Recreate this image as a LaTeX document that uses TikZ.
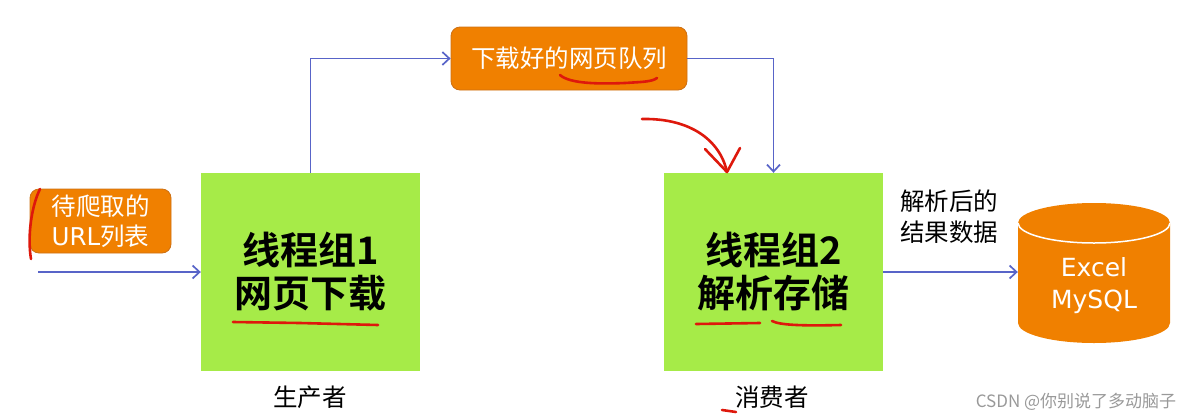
\documentclass[tikz,border=0pt]{standalone}
\usepackage{fontspec}
\newfontfamily\cjk{Noto Sans CJK SC}[BoldFont={Noto Sans CJK SC Bold}]
\newfontfamily\dv{DejaVu Sans}
\usetikzlibrary{arrows.meta}
\definecolor{limegreen}{RGB}{166,235,72}
\definecolor{boxorange}{RGB}{240,128,0}
\definecolor{edgeorange}{RGB}{205,112,20}
\definecolor{lineblue}{RGB}{88,100,200}
\definecolor{penred}{RGB}{222,24,12}
\tikzset{
  greenbox/.style={fill=limegreen, draw=none, minimum width=219pt, minimum height=198pt,
    inner sep=0pt, align=center, font=\cjk\bfseries\fontsize{38}{43}\selectfont},
  orangebox/.style={fill=boxorange, draw=edgeorange, line width=0.8pt, rounded corners=9pt,
    inner sep=0pt, align=center, text=white, font=\cjk\fontsize{24.5}{30}\selectfont},
  arr/.style={draw=lineblue, line width=1.7pt, -{Straight Barb[length=7pt,width=13pt]}},
  lab/.style={inner sep=0pt, align=center, font=\cjk\fontsize{24.5}{31}\selectfont},
  hand/.style={draw=penred, line width=2.6pt, line cap=round, line join=round},
}
\begin{document}
\begin{tikzpicture}[x=1pt,y=-1pt]
\useasboundingbox (0,0) rectangle (1184,413);
% green boxes
\node[greenbox] (b1) at (310.5,272) {线程组1\\网页下载};
\node[greenbox] (b2) at (773.5,272) {线程组2\\解析存储};
% orange boxes
\node[orangebox, minimum width=141pt, minimum height=64pt] (u) at (100.5,221) {待爬取的\\{\dv URL}列表};
\node[orangebox, minimum width=236pt, minimum height=63pt] (q) at (569,58.5) {下载好的网页队列};
% cylinder
\fill[boxorange] (1018,223) -- (1018,323)
  arc[start angle=180,end angle=360,x radius=76pt,y radius=20pt] -- (1170,223)
  arc[start angle=0,end angle=180,x radius=76pt,y radius=20pt] -- cycle;
\draw[white, line width=1.5pt] (1018,223) arc[start angle=180,end angle=360,x radius=76pt,y radius=20pt];
\node[inner sep=0pt, minimum width=152pt, minimum height=140pt, align=center, text=white,
  font=\dv\fontsize{25}{32}\selectfont] (db) at (1094,286) {Excel\\MySQL};
% connectors
\coordinate (in) at (38,272);
\draw[arr] (in) -- (b1.west);
\draw[arr] (b1.north) |- (q.west);
\draw[arr] (q.east) -| (b2.north);
\draw[arr] (b2.east) -- (b2.east -| db.west);
% labels
\node[lab] (p1) at (310,397) {生产者};
\node[lab] (p2) at (772,397) {消费者};
\node[lab] (res) at (949,217) {解析后的\\结果数据};
\node[inner sep=0pt, text=black!40, font=\cjk\fontsize{17}{20}\selectfont] (wm) at (1076,402) {CSDN @你别说了多动脑子};
% hand-drawn red marks
\draw[hand] (40,189) .. controls (32,205) and (27,235) .. (31,259);
\draw[hand] (233,322) -- (300,323) -- (378,325);
\draw[hand] (560,75) .. controls (570,84) and (600,84) .. (625,83) .. controls (640,82) and (652,82) .. (657,78);
\draw[hand] (642,119) .. controls (690,118) and (720,140) .. (727,172);
\draw[hand] (705,149) -- (727,172) -- (740,148);
\draw[hand] (696,324) -- (760,323);
\draw[hand] (772,321) .. controls (780,325) and (800,326) .. (841,325);
\draw[hand] (722,410) -- (736,412);
\end{tikzpicture}
\end{document}
